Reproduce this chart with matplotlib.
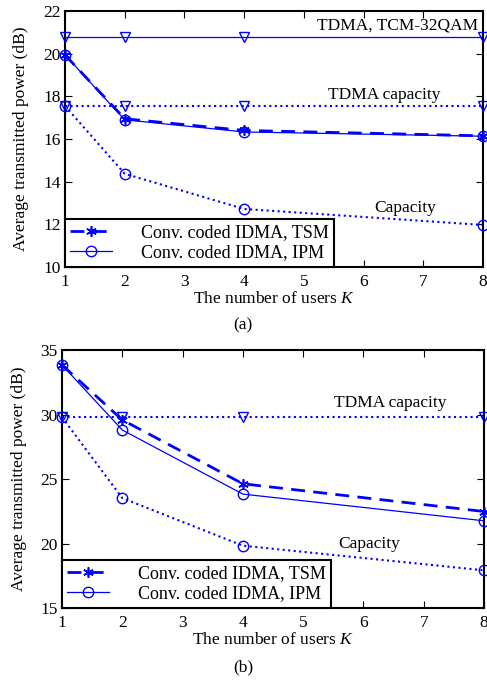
import matplotlib
matplotlib.use("Agg")
import matplotlib.pyplot as plt

plt.rcParams['font.family'] = ['Liberation Serif', 'DejaVu Serif']
plt.rcParams['mathtext.fontset'] = 'custom'
plt.rcParams['mathtext.rm'] = 'Liberation Serif'
plt.rcParams['mathtext.it'] = 'Liberation Serif:italic'

K = [1, 2, 4, 8]

# (a)
a_tcm = [20.77, 20.77, 20.77, 20.77]
a_tdma_cap = [17.55, 17.55, 17.55, 17.55]
a_cap = [17.55, 14.37, 12.72, 11.97]
a_tsm = [19.94, 16.95, 16.40, 16.15]
a_ipm = [19.94, 16.90, 16.33, 16.13]

# (b)
b_tdma_cap = [29.79, 29.79, 29.79, 29.79]
b_cap = [29.79, 23.52, 19.83, 17.92]
b_tsm = [33.84, 29.58, 24.63, 22.48]
b_ipm = [33.84, 28.80, 23.83, 21.76]

xticks = [1, 2, 3, 4, 5, 6, 7, 8]
a_yticks = [10, 12, 14, 16, 18, 20, 22]
b_yticks = [15, 20, 25, 30, 35]

blue = '#0000ff'
fs = 12.5
lfs = 13
ast = (6, 2, 0)

fig = plt.figure(figsize=(4.87, 6.81), dpi=100)
W, H = 487, 681
ax1 = fig.add_axes([65 / W, 1 - 267 / H, (483 - 65) / W, (267 - 11) / H])
ax2 = fig.add_axes([62 / W, 1 - 608 / H, (484 - 62) / W, (608 - 350) / H])


def style(ax, yticks):
    ax.set_xlim(1, 8)
    ax.set_ylim(yticks[0], yticks[-1])
    ax.set_xticks(xticks)
    ax.set_yticks(yticks)
    ax.tick_params(direction='in', top=True, right=True, labelsize=fs, length=5, width=0.8)
    ax.tick_params(axis='y', pad=3)
    ax.tick_params(axis='x', pad=5)
    for s in ax.spines.values():
        s.set_linewidth(1.5)
    ax.set_xlabel(r'The number of users $K$', fontsize=fs, labelpad=0.5)
    ax.set_ylabel('Average transmitted power (dB)', fontsize=fs, labelpad=10)


def legend(ax, handles):
    lg = ax.legend(handles=handles, loc='lower left', bbox_to_anchor=(0, 0), borderaxespad=0,
                   fontsize=lfs, frameon=True, fancybox=False, edgecolor='black', framealpha=1,
                   handlelength=2.3, handletextpad=1.6, borderpad=0.3, labelspacing=0.2)
    lg.get_frame().set_linewidth(1.5)
    return lg


ms = 7.5
dash = (5, 3)
# (a)
ax1.plot(K, a_tcm, '-', color=blue, lw=0.9, marker='v', ms=ms, mfc='none', mec=blue, mew=1, clip_on=False, zorder=3)
ax1.plot(K, a_tdma_cap, ':', color=blue, lw=1.5, marker='v', ms=ms, mfc='none', mec=blue, mew=1, clip_on=False, zorder=3)
ax1.plot(K, a_cap, ':', color=blue, lw=1.5, marker='o', ms=ms, mfc='none', mec=blue, mew=1, clip_on=False, zorder=3)
l1, = ax1.plot(K, a_tsm, '--', dashes=dash, color=blue, lw=2, marker=ast, ms=ms, mfc=blue, mec=blue, mew=1.2,
               clip_on=False, zorder=4, label='Conv. coded IDMA, TSM')
l2, = ax1.plot(K, a_ipm, '-', color=blue, lw=0.9, marker='o', ms=ms, mfc='none', mec=blue, mew=1, clip_on=False, zorder=4,
               label='Conv. coded IDMA, IPM')
style(ax1, a_yticks)
ax1.text(7.92, 21.3, 'TDMA, TCM-32QAM', fontsize=fs, ha='right', va='center')
ax1.text(6.35, 18.05, 'TDMA capacity', fontsize=fs, ha='center', va='center')
ax1.text(6.7, 12.78, 'Capacity', fontsize=fs, ha='center', va='center')
legend(ax1, [l1, l2])
fig.text(243 / W, 1 - 325 / H, '(a)', fontsize=fs, ha='center', va='center')

# (b)
ax2.plot(K, b_tdma_cap, ':', color=blue, lw=1.5, marker='v', ms=ms, mfc='none', mec=blue, mew=1, clip_on=False, zorder=3)
ax2.plot(K, b_cap, ':', color=blue, lw=1.5, marker='o', ms=ms, mfc='none', mec=blue, mew=1, clip_on=False, zorder=3)
m1, = ax2.plot(K, b_tsm, '--', dashes=dash, color=blue, lw=2, marker=ast, ms=ms, mfc=blue, mec=blue, mew=1.2,
               clip_on=False, zorder=4, label='Conv. coded IDMA, TSM')
m2, = ax2.plot(K, b_ipm, '-', color=blue, lw=0.9, marker='o', ms=ms, mfc='none', mec=blue, mew=1, clip_on=False, zorder=4,
               label='Conv. coded IDMA, IPM')
style(ax2, b_yticks)
ax2.text(6.45, 30.9, 'TDMA capacity', fontsize=fs, ha='center', va='center')
ax2.text(6.1, 19.95, 'Capacity', fontsize=fs, ha='center', va='center')
legend(ax2, [m1, m2])
fig.text(243 / W, 1 - 667 / H, '(b)', fontsize=fs, ha='center', va='center')

fig.savefig('out.png', dpi=100)
